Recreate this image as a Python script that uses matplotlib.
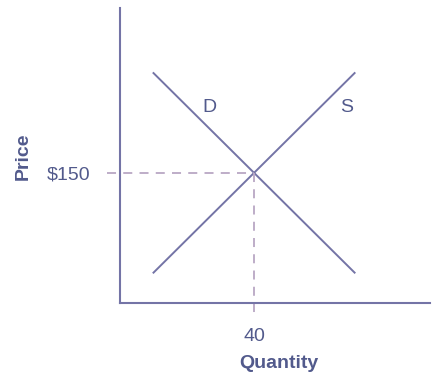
import matplotlib
matplotlib.use("Agg")
import matplotlib.pyplot as plt

plt.rcParams['font.family'] = ['Liberation Sans', 'DejaVu Sans']

# Data
demand_q = [10, 70]
demand_p = [265, 35]
supply_q = [10, 70]
supply_p = [35, 265]
eq_q = 40
eq_p = 150
x_tick_labels = ["40"]
y_tick_labels = ["$150"]
curve_labels = ["D", "S"]
curve_label_pos = [(26.6, 225.5), (67.5, 225.5)]

line_color = "#7474a6"
text_color = "#525a8c"

fig = plt.figure(figsize=(4.34, 3.83), dpi=100)
ax = fig.add_axes([120/434, 80/383, 310/434, 295/383])
ax.set_xlim(0, 92.5)
ax.set_ylim(0, 340)

ax.plot(demand_q, demand_p, color=line_color, lw=1.4)
ax.plot(supply_q, supply_p, color=line_color, lw=1.4)

# dashed guides (extend past the axes)
ax.plot([-3.9, eq_q], [eq_p, eq_p], color="#b9a7c4", lw=1.3, ls=(0, (5, 4)), clip_on=False)
ax.plot([eq_q, eq_q], [eq_p, -13.8], color="#b9a7c4", lw=1.3, ls=(0, (5, 4)), clip_on=False)

for lbl, (x, y) in zip(curve_labels, curve_label_pos):
    ax.text(x, y, lbl, color=text_color, fontsize=14, ha="center", va="center")

for s in ["top", "right"]:
    ax.spines[s].set_visible(False)
for s in ["left", "bottom"]:
    ax.spines[s].set_color(line_color)
    ax.spines[s].set_linewidth(1.5)

ax.set_xticks([eq_q], x_tick_labels)
ax.set_yticks([eq_p], y_tick_labels)
ax.tick_params(axis="x", length=0, pad=18, labelsize=14, labelcolor=text_color)
ax.tick_params(axis="y", length=0, pad=21, labelsize=14, labelcolor=text_color)

ax.set_xlabel("Quantity", color=text_color, fontsize=14, fontweight="bold")
ax.set_ylabel("Price", color=text_color, fontsize=14, fontweight="bold")
ax.xaxis.label.set_va("baseline")
ax.yaxis.label.set_va("baseline")
ax.yaxis.set_label_coords(-(120-28)/310, (303-156)/295)
ax.xaxis.set_label_coords((279-120)/310, -(368-303)/295)

fig.savefig("out.png", dpi=100, facecolor="white")
